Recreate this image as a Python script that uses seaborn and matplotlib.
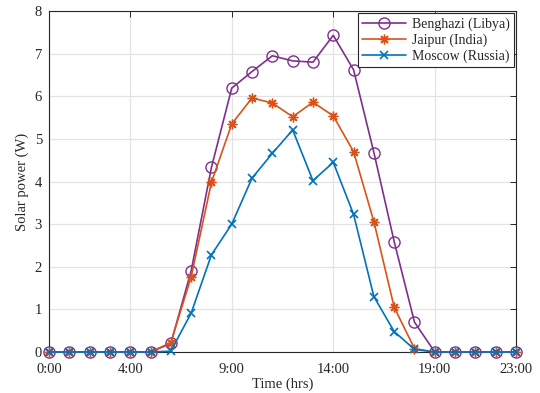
import numpy as np
import pandas as pd
import matplotlib
matplotlib.use("Agg")
import matplotlib.pyplot as plt
import seaborn as sns

hours = list(range(24))
tick_pos = [0, 4, 9, 14, 19, 23]
tick_labels = ["0:00", "4:00", "9:00", "14:00", "19:00", "23:00"]

benghazi = [0, 0, 0, 0, 0, 0, 0.20, 1.90, 4.33, 6.19, 6.58, 6.95, 6.83, 6.80,
            7.43, 6.62, 4.68, 2.59, 0.70, 0, 0, 0, 0, 0]
jaipur = [0, 0, 0, 0, 0, 0, 0.22, 1.76, 3.98, 5.35, 5.96, 5.84, 5.52, 5.86,
          5.54, 4.70, 3.06, 1.05, 0.08, 0, 0, 0, 0, 0]
moscow = [0, 0, 0, 0, 0, 0, 0.02, 0.91, 2.28, 3.00, 4.08, 4.66, 5.21, 4.02,
          4.45, 3.23, 1.30, 0.48, 0.06, 0, 0, 0, 0, 0]

labels = ["Benghazi (Libya)", "Jaipur (India)", "Moscow (Russia)"]

sns.set_theme(style="white")
plt.rcParams["font.family"] = ["Liberation Serif", "DejaVu Serif"]
plt.rcParams["mathtext.fontset"] = "stix"

fig = plt.figure(figsize=(5.4, 3.93), dpi=100)
ax = fig.add_axes([0.0907, 0.1043, 0.8649, 0.8677])

styles = [
    dict(color="#7E2F8E", marker="o", mfc="none", mec="#7E2F8E", ms=8, mew=1.0),
    dict(color="#D95319", marker=(8, 2, 0), mec="#D95319", ms=7, mew=1.0),
    dict(color="#0072BD", marker="x", mec="#0072BD", ms=6, mew=1.2),
]

for vals, lab, st in zip([benghazi, jaipur, moscow], labels, styles):
    df = pd.DataFrame({"hour": hours, "power": vals})
    sns.lineplot(data=df, x="hour", y="power", ax=ax, label=lab,
                 linewidth=1.2, clip_on=False, zorder=3, **st)

ax.set_xlim(0, 23)
ax.set_ylim(0, 8)
ax.set_xticks(tick_pos)
ax.set_xticklabels(tick_labels)
ax.set_yticks(range(9))
ax.grid(True, color="#e3e3e3", linewidth=0.9)
ax.set_axisbelow(True)
for s in ax.spines.values():
    s.set_visible(True)
    s.set_color("#262626")
    s.set_linewidth(0.8)
ax.tick_params(direction="in", top=True, right=True, length=4, width=0.7,
               color="#262626", labelsize=10.5, labelcolor="#262626")
ax.tick_params(axis="x", pad=8)
ax.tick_params(axis="y", pad=5)
ax.set_xlabel("Time (hrs)", fontsize=10.5, color="#262626", labelpad=1)
ax.set_ylabel("Solar power (W)", fontsize=10.5, color="#262626", labelpad=4)

leg = ax.legend(loc="upper right", fontsize=10, handlelength=3.2,
                labelspacing=0.2, borderaxespad=0.15, borderpad=0.3,
                handletextpad=0.4, fancybox=False, framealpha=1)
leg.get_frame().set_edgecolor("#262626")
leg.get_frame().set_linewidth(0.8)

fig.savefig("out.png", dpi=100)
